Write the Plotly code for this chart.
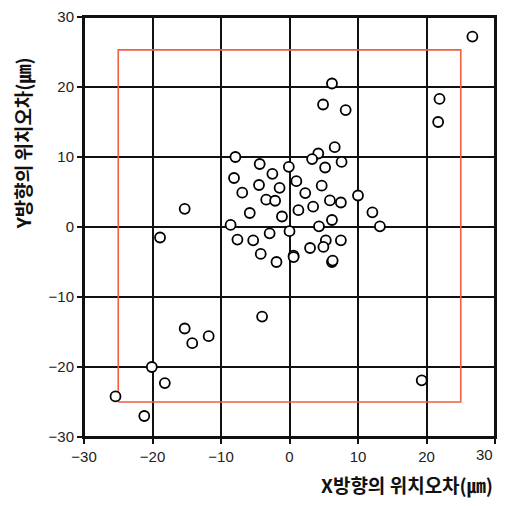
import plotly.graph_objects as go

# Position error data (µm)
x_err = [-7.9, -4.35, -0.1, -2.5, -8.1, 1.0, -4.45, -1.45, -6.9, 2.3,
         -3.4, -2.1, -5.8, -1.1, 1.3, -8.6, -2.9, 0.0, -7.6, -5.3,
         -4.2, 0.6, 0.6, -1.9, -15.3, -18.9, -4.0, -15.3, -14.2, -11.8,
         -20.1, -18.2, -25.4, -21.2, 26.7, 6.2, 4.9, 8.2, 21.9, 21.7,
         6.6, 4.2, 3.3, 7.6, 5.2, 4.7, 10.0, 5.9, 7.5, 3.45,
         12.1, 6.2, 4.3, 13.2, 5.3, 7.5, 3.0, 4.95, 6.2, 6.3, 19.3]
y_err = [10.0, 9.0, 8.6, 7.6, 7.0, 6.55, 6.0, 5.6, 4.9, 4.85,
         3.9, 3.75, 2.0, 1.5, 2.4, 0.3, -0.9, -0.6, -1.8, -1.9,
         -3.85, -4.1, -4.3, -5.0, 2.6, -1.5, -12.8, -14.5, -16.6, -15.6,
         -20.0, -22.3, -24.2, -27.0, 27.2, 20.5, 17.5, 16.7, 18.3, 15.0,
         11.4, 10.5, 9.7, 9.3, 8.5, 5.9, 4.5, 3.8, 3.5, 2.9,
         2.1, 1.0, 0.1, 0.1, -1.9, -1.9, -3.0, -2.85, -5.0, -4.8, -21.9]

# Tolerance box
box_x = [-25, 25, 25, -25, -25]
box_y = [-25, -25, 25.3, 25.3, -25]

tick_vals = [-30, -20, -10, 0, 10, 20, 30]
tick_text = ["−30", "−20", "−10", "0", "10", "20", "30"]
x_title = "X방향의 위치오차(㎛)"
y_title = "Y방향의 위치오차(㎛)"

fig = go.Figure()
fig.add_trace(go.Scatter(x=box_x, y=box_y, mode="lines",
                         line=dict(color="#f0603e", width=1.6),
                         hoverinfo="skip", showlegend=False))
fig.add_trace(go.Scatter(x=x_err, y=y_err, mode="markers",
                         marker=dict(symbol="circle", size=10, color="white",
                                     line=dict(color="black", width=1.8)),
                         showlegend=False))

tick_font = dict(family="Liberation Sans, Arial", size=15, color="#222222")
axis_common = dict(range=[-30, 30], tickvals=tick_vals, showgrid=True,
                   gridcolor="#111111", gridwidth=2, zeroline=False,
                   showline=True, linecolor="#111111", linewidth=2, mirror=True,
                   ticks="outside", ticklen=5, tickwidth=2, tickcolor="#111111",
                   automargin=False, ticklabeloverflow="allow", tickfont=tick_font)

# last x label is placed as a right-aligned annotation so it stays inside the page
fig.update_xaxes(**axis_common, ticktext=tick_text[:-1] + [""])
fig.update_yaxes(**axis_common, ticktext=tick_text)

fig.update_layout(
    width=489, height=490,
    margin=dict(l=76, r=2, t=9, b=61),
    plot_bgcolor="white", paper_bgcolor="white",
    shapes=[dict(type="rect", xref="paper", yref="paper", x0=0, x1=1, y0=0, y1=1,
                 line=dict(color="#111111", width=2), layer="below")],
    annotations=[
        dict(text=tick_text[-1], xref="x", yref="paper", x=tick_vals[-1], y=0,
             xanchor="right", yanchor="top", yshift=-7, showarrow=False,
             font=tick_font),
        dict(text="<b>" + x_title + "</b>", xref="paper", yref="paper",
             x=1.0, y=-0.113, xanchor="right", yanchor="middle", showarrow=False,
             font=dict(family="Noto Sans CJK KR", size=19, color="#111111")),
        dict(text="<b>" + y_title + "</b>", xref="paper", yref="paper",
             x=-0.15, y=0.70, xanchor="center", yanchor="middle", textangle=-90,
             showarrow=False,
             font=dict(family="Noto Sans CJK KR", size=19, color="#111111")),
    ],
)

fig.write_html("out.html")
